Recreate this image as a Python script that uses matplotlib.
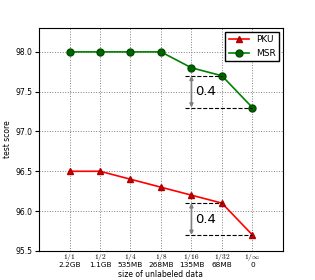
import matplotlib
matplotlib.use("Agg")
import matplotlib.pyplot as plt

plt.rcParams['mathtext.fontset'] = 'cm'

fractions = [r"$1/1$", r"$1/2$", r"$1/4$", r"$1/8$", r"$1/16$", r"$1/32$", r"$1/\infty$"]
sizes = ["2.2GB", "1.1GB", "535MB", "268MB", "135MB", "68MB", "0"]
pku = [96.5, 96.5, 96.4, 96.3, 96.2, 96.1, 95.7]
msr = [98.0, 98.0, 98.0, 98.0, 97.8, 97.7, 97.3]

x = list(range(1, len(pku) + 1))

fig = plt.figure(figsize=(3.15, 2.8), dpi=100)
ax = fig.add_axes([0.124, 0.104, 0.774, 0.796])

ax.plot(x, pku, color='red', marker='^', markersize=5, markerfacecolor='#cc0000',
        markeredgecolor='#aa0000', linewidth=1.2, label='PKU')
ax.plot(x, msr, color='green', marker='o', markersize=5, markerfacecolor='#006400',
        markeredgecolor='#004d00', linewidth=1.2, label='MSR')

# the "0.4" drop marks
for series in (msr, pku):
    hi, lo = series[5], series[6]
    ax.plot([4.8, 6], [hi, hi], '--', color='black', linewidth=0.8)
    ax.plot([4.8, 7], [lo, lo], '--', color='black', linewidth=0.8)
    ax.annotate('', xy=(5, lo), xytext=(5, hi),
                arrowprops=dict(arrowstyle='<|-|>', color='gray', lw=1.2,
                                mutation_scale=5, shrinkA=0, shrinkB=0))
    ax.text(5.12, (hi + lo) / 2, '0.4', fontsize=9.5, va='center', ha='left')

ax.set_xlim(0, 8)
ax.set_ylim(95.5, 98.3)
ax.set_xticks(x)
ax.set_xticklabels([f + "\n" + s for f, s in zip(fractions, sizes)], fontsize=5.3,
                   linespacing=0.8)
ax.set_yticks([95.5, 96.0, 96.5, 97.0, 97.5, 98.0])
ax.tick_params(axis='y', labelsize=5.5, length=3, pad=2)
ax.tick_params(axis='x', length=0, pad=1)
ax.grid(True, linestyle=':', color='gray', linewidth=0.7)
ax.set_xlabel('size of unlabeled data', fontsize=5.5)
ax.set_ylabel('test score', fontsize=5.5)
ax.xaxis.set_label_coords(0.5, -0.088)
ax.yaxis.set_label_coords(-0.11, 0.5)

ax.legend(loc='upper right', fontsize=6.5, handlelength=2.2, borderaxespad=0.4,
          fancybox=False, edgecolor='black', framealpha=1)

fig.savefig('out.png', dpi=100)
